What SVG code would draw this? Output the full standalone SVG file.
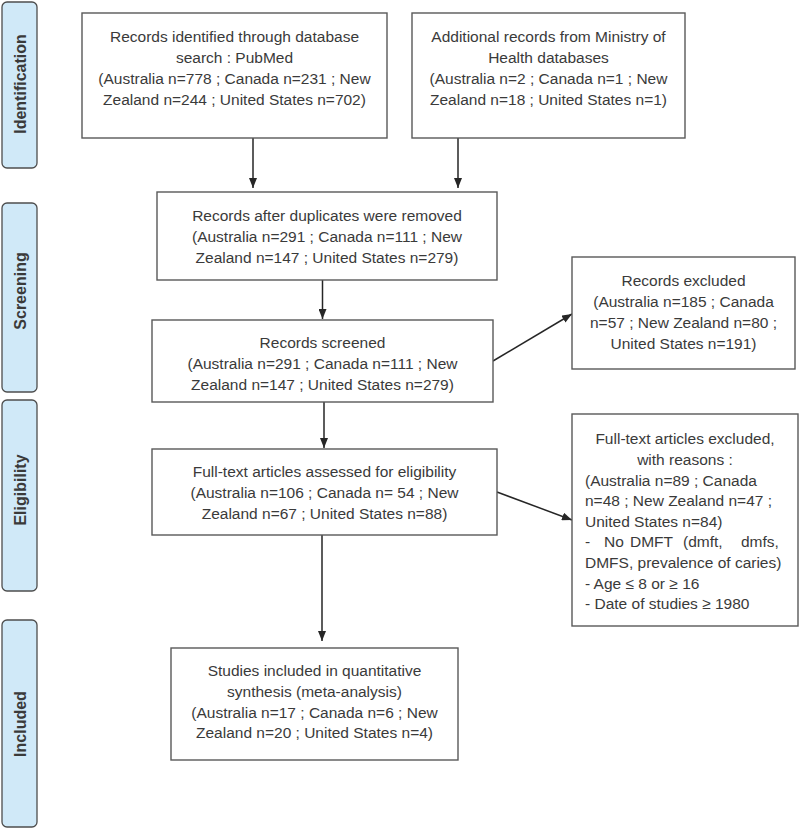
<svg xmlns="http://www.w3.org/2000/svg" width="800" height="829" viewBox="0 0 800 829">
<defs>
<marker id="ah" markerUnits="userSpaceOnUse" markerWidth="10" markerHeight="8" refX="10" refY="4" orient="auto">
<path d="M0,0 L10,4 L0,8 z" fill="#262626"/>
</marker>
<style>
.box{fill:#ffffff;stroke:#595959;stroke-width:1.4}
.bar{fill:#d0e9f8;stroke:#4d4d4d;stroke-width:1.3}
.t{font-family:"Liberation Sans",Arial,sans-serif;font-size:15.5px;fill:#3a3a3a;text-anchor:middle}
.tl{text-anchor:start}
.lab{font-family:"Liberation Sans",Arial,sans-serif;font-size:16px;font-weight:bold;fill:#3a3a3a;text-anchor:middle}
.c{stroke:#262626;stroke-width:1.5;fill:none;marker-end:url(#ah)}
</style>
</defs>
<rect width="800" height="829" fill="#ffffff"/>
<g id="phase-identification">
<rect class="bar" x="2" y="2" width="35" height="166" rx="5"/>
<text class="lab" transform="translate(26,84) rotate(-90)">Identification</text>
</g>
<g id="phase-screening">
<rect class="bar" x="2" y="203" width="35" height="189" rx="5"/>
<text class="lab" transform="translate(26,291) rotate(-90)">Screening</text>
</g>
<g id="phase-eligibility">
<rect class="bar" x="2" y="400" width="35" height="191" rx="5"/>
<text class="lab" transform="translate(26,490) rotate(-90)">Eligibility</text>
</g>
<g id="phase-included">
<rect class="bar" x="2" y="620" width="35" height="207" rx="5"/>
<text class="lab" transform="translate(26,724) rotate(-90)">Included</text>
</g>
<g id="connectors">
<line class="c" x1="253" y1="138" x2="253" y2="188"/>
<line class="c" x1="458" y1="138" x2="458" y2="188"/>
<line class="c" x1="322.5" y1="280" x2="322.5" y2="319"/>
<line class="c" x1="493" y1="361" x2="572" y2="314"/>
<line class="c" x1="324" y1="402" x2="324" y2="448"/>
<line class="c" x1="497" y1="492" x2="572" y2="520"/>
<line class="c" x1="322" y1="535" x2="322" y2="641"/>
</g>
<g id="n-pubmed">
<rect class="box" x="82" y="13" width="305" height="125"/>
<text class="t" x="234.5" y="42">Records identified through database</text>
<text class="t" x="234.5" y="63">search : PubMed</text>
<text class="t" x="234.5" y="84">(Australia n=778 ; Canada n=231 ; New</text>
<text class="t" x="234.5" y="105">Zealand n=244 ; United States n=702)</text>
</g>
<g id="n-ministry">
<rect class="box" x="412" y="13" width="273" height="125"/>
<text class="t" x="548.5" y="42">Additional records from Ministry of</text>
<text class="t" x="548.5" y="63">Health databases</text>
<text class="t" x="548.5" y="84">(Australia n=2 ; Canada n=1 ; New</text>
<text class="t" x="548.5" y="105">Zealand n=18 ; United States n=1)</text>
</g>
<g id="n-dedup">
<rect class="box" x="157" y="192" width="340" height="88"/>
<text class="t" x="327" y="221">Records after duplicates were removed</text>
<text class="t" x="327" y="242">(Australia n=291 ; Canada n=111 ; New</text>
<text class="t" x="327" y="263">Zealand n=147 ; United States n=279)</text>
</g>
<g id="n-screened">
<rect class="box" x="152" y="320" width="341" height="82"/>
<text class="t" x="322.5" y="348">Records screened</text>
<text class="t" x="322.5" y="369">(Australia n=291 ; Canada n=111 ; New</text>
<text class="t" x="322.5" y="390">Zealand n=147 ; United States n=279)</text>
</g>
<g id="n-excluded">
<rect class="box" x="572" y="257" width="223" height="112"/>
<text class="t" x="683.5" y="286">Records excluded</text>
<text class="t" x="683.5" y="307">(Australia n=185 ; Canada</text>
<text class="t" x="683.5" y="328">n=57 ; New Zealand n=80 ;</text>
<text class="t" x="683.5" y="349">United States n=191)</text>
</g>
<g id="n-fulltext">
<rect class="box" x="152" y="449" width="345" height="86"/>
<text class="t" x="324.5" y="477">Full-text articles assessed for eligibility</text>
<text class="t" x="324.5" y="498">(Australia n=106 ; Canada n= 54 ; New</text>
<text class="t" x="324.5" y="519">Zealand n=67 ; United States n=88)</text>
</g>
<g id="n-fulltext-excluded">
<rect class="box" x="572" y="414" width="226" height="212"/>
<text class="t" x="685" y="444">Full-text articles excluded,</text>
<text class="t" x="685" y="465">with reasons :</text>
<text class="t tl" x="585" y="485.5">(Australia n=89 ; Canada</text>
<text class="t tl" x="585" y="506">n=48 ; New Zealand n=47 ;</text>
<text class="t tl" x="585" y="526.5">United States n=84)</text>
<text class="t tl" y="547"><tspan x="585">-</tspan><tspan x="604">No</tspan><tspan x="630">DMFT</tspan><tspan x="683">(dmft,</tspan><tspan x="741">dmfs,</tspan></text>
<text class="t tl" x="585" y="568">DMFS, prevalence of caries)</text>
<text class="t tl" x="585" y="588.5">- Age ≤ 8 or ≥ 16</text>
<text class="t tl" x="585" y="609">- Date of studies ≥ 1980</text>
</g>
<g id="n-included">
<rect class="box" x="171" y="648" width="287" height="112"/>
<text class="t" x="314.5" y="676">Studies included in quantitative</text>
<text class="t" x="314.5" y="697">synthesis (meta-analysis)</text>
<text class="t" x="314.5" y="717.5">(Australia n=17 ; Canada n=6 ; New</text>
<text class="t" x="314.5" y="738">Zealand n=20 ; United States n=4)</text>
</g>
</svg>
